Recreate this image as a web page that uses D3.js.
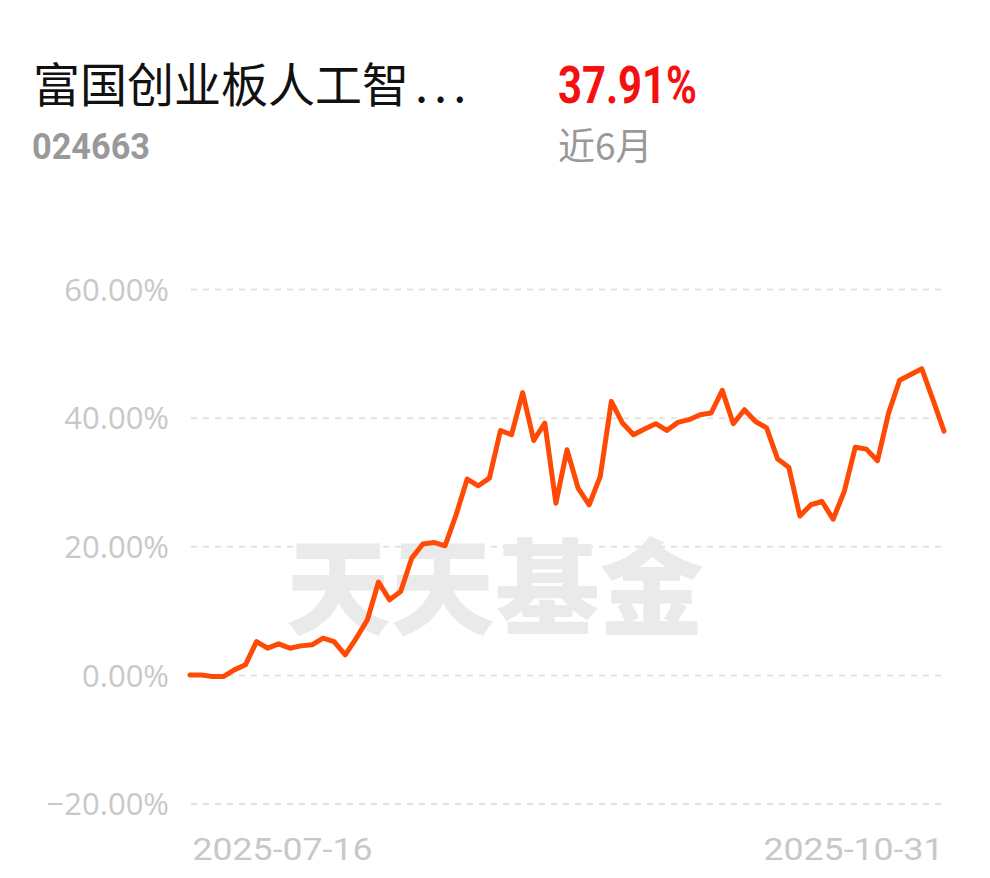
<!DOCTYPE html>
<html><head><meta charset="utf-8">
<script src="https://cdn.jsdelivr.net/npm/d3@7"></script>
<style>html,body{margin:0;padding:0;background:#fff;}svg{display:block;}</style>
</head><body>
<script>
const fundName = "富国创业板人工智";
const ellipsis = "...";
const fundCode = "024663";
const periodReturn = "37.91%";
const periodLabel = "近6月";
const watermark = "天天基金";
const xTickLabels = ["2025-07-16", "2025-10-31"];
const yTicks = [-20, 0, 20, 40, 60];
const returns = [0, 0, -0.26, -0.26, 0.78, 1.56, 5.18, 4.15, 4.82, 4.15,
  4.51, 4.67, 5.71, 5.18, 3.11, 5.71, 8.56, 14.43, 11.67, 12.96,
  18.16, 20.34, 20.59, 20.07, 24.9, 30.45, 29.4, 30.6, 38.0, 37.34,
  43.9, 36.45, 39.16, 26.7, 35.0, 29.05, 26.45, 30.86, 42.53, 39.16,
  37.34, 38.23, 39.05, 38.0, 39.26, 39.68, 40.46, 40.72, 44.24, 39.05,
  41.23, 39.4, 38.4, 33.56, 32.3, 24.7, 26.45, 26.96, 24.2, 28.5,
  35.4, 35.1, 33.3, 40.7, 45.8, 46.7, 47.6, 42.8, 37.91];

const W = 990, H = 878;
const svg = d3.select("body").append("svg").attr("width", W).attr("height", H);

// Header
const title = svg.append("text").attr("x", 33).attr("y", 102)
  .attr("font-family", "'Noto Sans CJK SC', sans-serif").attr("font-size", 47)
  .attr("fill", "#111");
title.append("tspan").text(fundName);
title.append("tspan").attr("dx", 6).attr("letter-spacing", 6).text(ellipsis);

svg.append("text").attr("x", 32).attr("y", 159).text(fundCode)
  .attr("font-family", "Roboto, sans-serif").attr("font-weight", 700).attr("font-size", 37)
  .attr("fill", "#999").attr("textLength", 118).attr("lengthAdjust", "spacingAndGlyphs");
svg.append("text").attr("x", 558).attr("y", 103).text(periodReturn)
  .attr("font-family", "Roboto, sans-serif").attr("font-weight", 700).attr("font-size", 52)
  .attr("fill", "#f4100f").attr("textLength", 139).attr("lengthAdjust", "spacingAndGlyphs");
svg.append("text").attr("x", 558).attr("y", 160).text(periodLabel)
  .attr("font-family", "'Noto Sans CJK SC', sans-serif").attr("font-size", 37)
  .attr("fill", "#999");

const x = d3.scaleLinear().domain([0, returns.length - 1]).range([190, 944]);
const y = d3.scaleLinear().domain([-20, 60]).range([803.5, 289]);

// Grid + y labels
const yAxis = d3.axisLeft(y).tickValues(yTicks).tickSize(-(944 - 191))
  .tickFormat(d => d3.format(".2f")(d) + "%").tickPadding(22);
const gY = svg.append("g").attr("transform", "translate(191,0)").call(yAxis);
gY.select(".domain").remove();
gY.selectAll(".tick line").attr("stroke", "#e3e3e3").attr("stroke-width", 2)
  .attr("stroke-dasharray", "6,6");
gY.selectAll(".tick text").attr("fill", "#c8c8c8").attr("font-size", 31)
  .attr("font-family", "'Open Sans', Lato, sans-serif").attr("dy", "0.36em");

// Watermark
svg.append("text").attr("x", 495).attr("y", 627).attr("text-anchor", "middle").text(watermark)
  .attr("font-family", "'Noto Sans CJK SC', sans-serif").attr("font-weight", 900).attr("font-size", 104)
  .attr("fill", "#eaeaea").attr("textLength", 418).attr("lengthAdjust", "spacingAndGlyphs");

// X labels
const xAx = d3.axisBottom(x).tickValues([0, returns.length - 1]).tickSize(0)
  .tickFormat((d, i) => xTickLabels[i]);
const gX = svg.append("g").attr("transform", "translate(0,830)").call(xAx);
gX.select(".domain").remove();
gX.selectAll(".tick text").attr("fill", "#c8c8c8").attr("font-size", 32)
  .attr("font-family", "Roboto, sans-serif").attr("dy", "0.85em")
  .attr("text-anchor", (d, i) => i === 0 ? "start" : "end")
  .attr("dx", (d, i) => i === 0 ? 2 : -1)
  .attr("textLength", 180).attr("lengthAdjust", "spacingAndGlyphs");

// Line
const line = d3.line().x((d, i) => x(i)).y(d => y(d));
svg.append("path").datum(returns).attr("d", line).attr("fill", "none")
  .attr("stroke", "#ff4a05").attr("stroke-width", 5).attr("stroke-linejoin", "round")
  .attr("stroke-linecap", "round");
</script>
</body></html>
